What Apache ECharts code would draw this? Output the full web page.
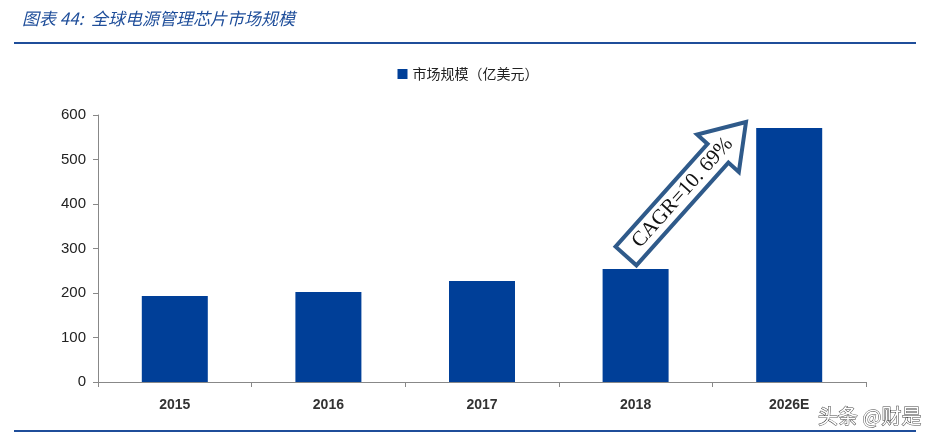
<!DOCTYPE html><html><head><meta charset="utf-8"><script src="https://cdn.jsdelivr.net/npm/echarts@6/dist/echarts.min.js"></script></head><body style="margin:0"><div id="c" style="width:936px;height:437px"></div><script>
const categories=['2015','2016','2017','2018','2026E'];
const values=[193,202,227,254,571];
const yTicks=[0,100,200,300,400,500,600];
const chart=echarts.init(document.getElementById('c'));
// arrow geometry
const tail=[626,256], tip=[746,122];
const dx=tip[0]-tail[0], dy=tip[1]-tail[1], L=Math.hypot(dx,dy);
const ux=dx/L, uy=dy/L, nx=-uy, ny=ux;
const sw=14, hw=28, hl=42;
function P(a,b){return [tail[0]+ux*a+nx*b, tail[1]+uy*a+ny*b];}
const pts=[P(0,-sw),P(L-hl,-sw),P(L-hl,-hw),P(L,0),P(L-hl,hw),P(L-hl,sw),P(0,sw)];
const ang=Math.atan2(-dy,dx);
const mid=P((L-hl)/2+16,0);
chart.setOption({
 animation:false,
 legend:{top:62,left:'center',itemWidth:10,itemHeight:10,icon:'rect',textStyle:{fontFamily:'Noto Sans CJK SC',fontSize:14,color:'#222'},data:['市场规模（亿美元）']},
 grid:{left:98,right:70,top:115,bottom:55},
 xAxis:{type:'category',data:categories,axisLine:{lineStyle:{color:'#888'}},axisTick:{show:true,length:5,lineStyle:{color:'#888'}},axisLabel:{fontFamily:'Liberation Sans',fontWeight:'bold',fontSize:14,color:'#333',margin:16}},
 yAxis:{type:'value',min:0,max:600,interval:100,axisLine:{show:true,lineStyle:{color:'#888'}},axisTick:{show:true,length:5,lineStyle:{color:'#888'}},splitLine:{show:false},axisLabel:{fontFamily:'Liberation Sans',fontSize:15,color:'#222',margin:12,formatter:v=>yTicks.includes(v)?String(v):''}},
 series:[{name:'市场规模（亿美元）',type:'bar',data:values,barWidth:66,itemStyle:{color:'#003F98'}}],
 graphic:[
  {type:'text',left:22,top:10,style:{text:'图表 44:  全球电源管理芯片市场规模',font:'italic 17px "Noto Sans CJK SC"',fill:'#1F4E9A'}},
  {type:'rect',shape:{x:14,y:42,width:902,height:2},style:{fill:'#1F4E9A'}},
  {type:'rect',shape:{x:14,y:430,width:902,height:2},style:{fill:'#1F4E9A'}},
  {type:'polygon',shape:{points:pts},style:{fill:'#fff',stroke:'#2F5A8A',lineWidth:4},z:10},
  {type:'text',x:mid[0],y:mid[1],rotation:ang,style:{text:'CAGR=10. 69%',font:'21px "Liberation Serif"',fill:'#111',align:'center',verticalAlign:'middle'},z:11},
  {type:'text',right:14,bottom:10,style:{text:'头条 @财是',font:'20px "Noto Sans CJK SC"',fill:'#fff',stroke:'#444',lineWidth:1},z:12}
 ]
});
</script></body></html>
